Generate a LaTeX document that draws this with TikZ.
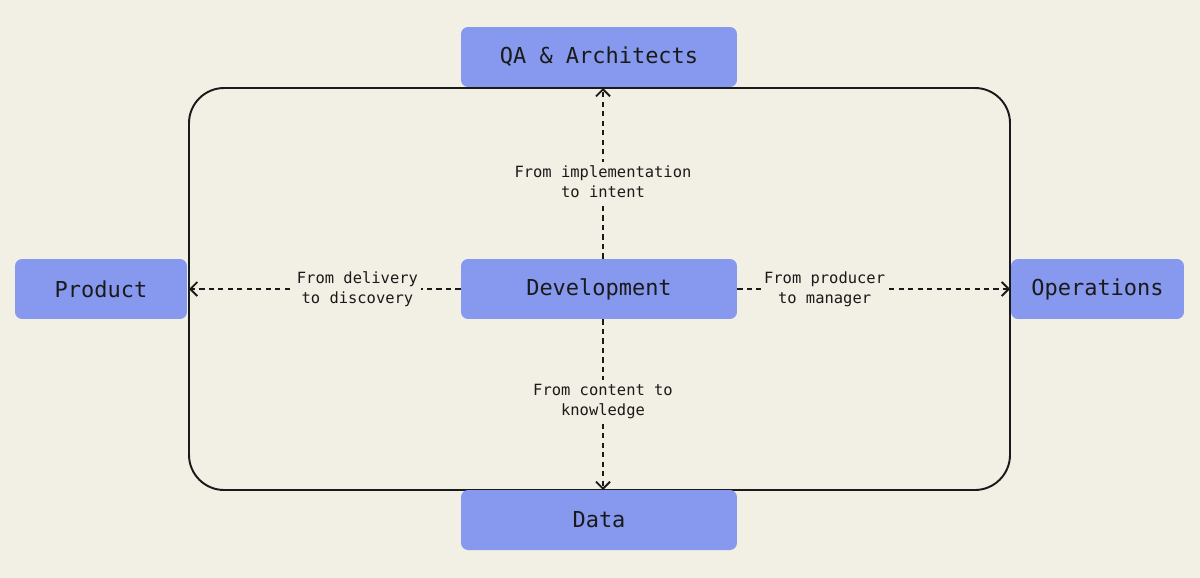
\documentclass[tikz,border=0pt]{standalone}
\usepackage{fontspec}
\setmonofont{DejaVu Sans Mono}
\usetikzlibrary{arrows.meta}
\definecolor{paper}{HTML}{F2EFE4}
\definecolor{boxblue}{HTML}{8799EE}
\definecolor{ink}{HTML}{1A1A1A}
\tikzset{
  team/.style={fill=boxblue, rounded corners=4pt, minimum height=1.2cm, text=ink, font=\ttfamily\fontsize{12.5}{14}\selectfont},
  shift arrow/.style={line width=1.1pt, dash pattern=on 3pt off 2.4pt, -{Straight Barb[length=4pt,width=8pt]}, ink},
  shift label/.style={fill=paper, align=center, text=ink, font=\ttfamily\fontsize{8.8}{11.5}\selectfont, inner sep=2pt}
}
\begin{document}
\begin{tikzpicture}[x=0.02cm,y=-0.02cm]
\fill[paper] (0,0) rectangle (1200,578);
\useasboundingbox (0,0) rectangle (1200,578);
% frame
\draw[line width=1.1pt, rounded corners=20pt, ink] (189,88) rectangle (1010,490);
% teams
\node[team, minimum width=5.52cm] (dev) at (599,289) {Development};
\node[team, minimum width=5.52cm] (qa) at (599,57) {QA \& Architects};
\node[team, minimum width=5.52cm] (data) at (599,520) {Data};
\node[team, minimum width=3.44cm] (prod) at (101,289) {Product};
\node[team, minimum width=3.46cm] (ops) at (1097.5,289) {Operations};
% shifts
\draw[shift arrow] (dev.north -| 603,0) -- (603,88) node[shift label, pos=0.45] {From implementation\\to intent};
\draw[shift arrow] (dev.west) -- (189,289) node[shift label, pos=0.38] {From delivery\\to discovery};
\draw[shift arrow] (dev.east) -- (1010,289) node[shift label, pos=0.32] {From producer\\to manager};
\draw[shift arrow] (dev.south -| 603,0) -- (603,490) node[shift label, pos=0.48] {From content to\\knowledge};
\end{tikzpicture}
\end{document}
